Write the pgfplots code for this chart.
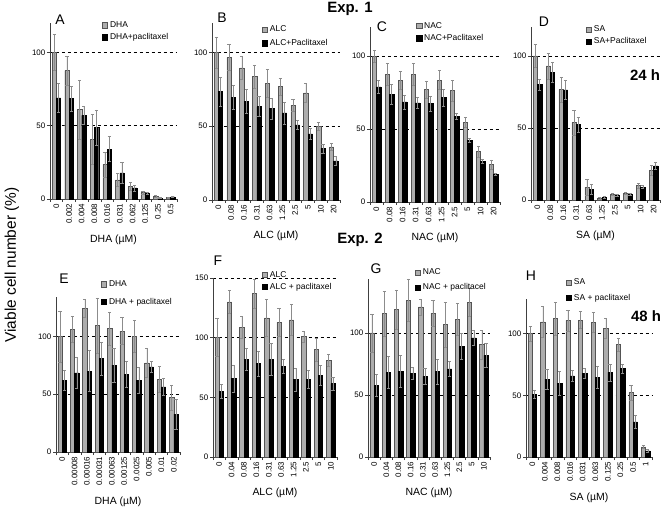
\documentclass[border=0pt]{standalone}
\usepackage{fontspec}
\setmainfont{Liberation Sans}
\usepackage{pgfplots}
\pgfplotsset{compat=1.18}
\usepackage{pgfplotstable}

\definecolor{barg}{rgb}{0.68,0.68,0.68}
\definecolor{barge}{rgb}{0.33,0.33,0.33}
\definecolor{errc}{rgb}{0.55,0.55,0.55}
\newcommand{\ticks}{\fontsize{8}{9}\selectfont}

\pgfplotstableread{
x g ge b be
0 100 12 69 10
1 87.5 10 68.5 8.5
2 61 20 57 6
3 40.5 17 48.7 12
4 23.5 8.5 34 8.5
5 13 4.5 17.8 7
6 8.7 3 7.5 2
7 4.3 1.2 3.9 1
8 2 0.5 0.7 0.3
9 1.1 0.3 1.4 0.3
}\tA
\pgfplotstableread{
x g ge b be
0 100 10.6 73.4 9.7
1 96.6 8.8 69.6 7.9
2 89.6 7.9 67 8
3 83.6 8 63.3 6.7
4 79 9.5 62 7
5 76.8 5.6 59 7.4
6 64.4 4 51 3.2
7 72.7 6.3 44.8 3.8
8 49.8 2.7 35 3
9 36 2.5 26.6 3
}\tB
\pgfplotstableread{
x g ge b be
0 100 4 79 4.6
1 87.4 7.5 73.7 7
2 83.6 6 68.7 4.8
3 87.4 7.5 68 4
4 77 6 67.6 5.2
5 83.6 6.6 71.5 5.7
6 76.3 7 58.7 2
7 54.8 3.6 42.5 1.3
8 34.7 3.7 28 1.2
9 25.6 3.2 19 1
}\tC
\pgfplotstableread{
x g ge b be
0 100 8 80 4
1 93 9 88.5 7
2 76.6 8.5 76.3 6.5
3 53.6 8.5 52.2 5.3
4 8.7 5.5 7.4 3.4
5 1.1 0.5 1.8 0.5
6 3.9 0.5 3.2 0.5
7 4.8 0.5 4.1 0.5
8 9.9 1.6 9 1.1
9 20.7 3.4 23.7 2.3
}\tD
\pgfplotstableread{
x g ge b be
0 100 22 62 8.6
1 106 11.5 68.5 13.7
2 124 7.7 70 17.6
3 109.5 23.8 80.8 14.3
4 106.6 14.3 75 14.3
5 104.6 11.5 67.3 11.2
6 100 13.8 62 11.5
7 77 12.3 73.6 4.9
8 62.8 11.4 56.4 7.2
9 47 10.9 32.7 12.9
}\tE
\pgfplotstableread{
x g ge b be
0 100.3 16 55 6
1 130 9.5 65.6 11.7
2 108.7 9.2 81.6 9.2
3 136.9 12.2 78.2 10.6
4 116.5 15.4 81.8 13.7
5 112.8 11.5 76 5.6
6 115 13 64.8 9.8
7 101 4.7 64.8 7.5
8 90 9.8 68.2 8.4
9 80.7 5 61.5 5.3
}\tF
\pgfplotstableread{
x g ge b be
0 100 15.3 57.5 8.9
1 115.6 18 68.3 12.9
2 118.8 16 69 12.9
3 126.3 17.2 67.7 4.8
4 121 6.5 65 6.7
5 116 10.2 68.8 10.2
6 106.7 18 71 6.2
7 110.8 12.9 89.2 10.8
8 124.7 11.6 96 5.9
9 90.6 11.6 82 9.4
}\tG
\pgfplotstableread{
x g ge b be
0 100 6 51 3.3
1 109.5 12.8 63 8.4
2 112 13 59.8 9.5
3 110.6 8.4 65.8 4.3
4 110.9 6.8 68 4
5 109.2 8.2 64.7 8.7
6 104 8.2 68.5 6.8
7 91 5.4 71.5 3.3
8 52.2 6.2 28.5 5.4
9 8.2 1.3 4.9 1.1
}\tH

\pgfplotsset{
 panel/.style={
  scale only axis, anchor=south west, clip=false,
  ybar=0pt, bar width=4.3bp,
  xmin=-0.5, xmax=9.5, ymin=0,
  axis x line=bottom, axis y line=left,
  axis line style={-, black!75, line width=0.6pt},
  xtick={-0.5,0.5,...,9.5}, xticklabels={},
  extra x ticks={0,1,...,9},
  extra x tick style={major tick length=0pt},
  tick align=outside, major tick length=3bp,
  tick style={black!75, line width=0.6pt},
  ytick={0,50,100},
  ymajorgrids, major grid style={dashed, black, line width=0.5pt},
  x tick label style={rotate=90, anchor=east, font=\ticks, inner sep=1.5bp, xshift=-3bp},
  y tick label style={font=\ticks, inner sep=1.5bp},
  /pgf/number format/assume math mode=true,
  xlabel style={font=\fontsize{10.5}{12}\selectfont, yshift=-3bp},
  legend style={draw=none, fill=none, font=\fontsize{8.5}{9}\selectfont,
    anchor=north west, inner sep=0pt, cells={anchor=west}},
  legend image code/.code={\draw[##1, line width=0.6pt] (0bp,-2.6bp) rectangle (5.2bp,2.6bp);},
 },
 gbar/.style={fill=barg, draw=barge, line width=0.5pt,
   error bars/.cd, y dir=both, y explicit,
   error bar style={errc, line width=0.5pt, solid},
   error mark options={rotate=90, errc, mark size=1.6bp, line width=0.5pt}},
 kbar/.style={fill=black, draw=black, line width=0.5pt,
   error bars/.cd, y dir=both, y explicit,
   error bar style={errc, line width=0.5pt, solid},
   error mark options={rotate=90, errc, mark size=1.6bp, line width=0.5pt}},
}

\begin{document}
\begin{tikzpicture}
\path[use as bounding box] (0,0) rectangle (669bp,509bp);

% A
\begin{axis}[panel, at={(50bp,310bp)}, width=127bp, height=176bp, ymax=120,
  extra x tick labels={0,0.002,0.004,0.008,0.016,0.031,0.062,0.125,0.25,0.5},
  xlabel={DHA (µM)},
  legend style={at={(axis description cs:0.41,1.02)}, row sep=0.5bp}]
\addplot[gbar] table[x=x,y=g,y error=ge]{\tA};
\addplot[kbar] table[x=x,y=b,y error=be]{\tA};
\legend{DHA,DHA+paclitaxel}
\end{axis}

% B
\begin{axis}[panel, at={(212bp,309bp)}, width=128bp, height=177bp, ymax=120,
  extra x tick labels={0,0.08,0.16,0.31,0.63,1.25,2.5,5,10,20},
  xlabel={ALC (µM)},
  legend style={at={(axis description cs:0.39,0.995)}, row sep=2bp}]
\addplot[gbar] table[x=x,y=g,y error=ge]{\tB};
\addplot[kbar] table[x=x,y=b,y error=be]{\tB};
\legend{ALC,ALC+Paclitaxel}
\end{axis}

% C
\begin{axis}[panel, at={(370bp,307bp)}, width=130bp, height=175bp, ymax=120,
  extra x tick labels={0,0.08,0.16,0.31,0.63,1.25,2.5,5,10,20},
  xlabel={NAC (µM)},
  legend style={at={(axis description cs:0.355,1.04)}, row sep=1bp}]
\addplot[gbar] table[x=x,y=g,y error=ge]{\tC};
\addplot[kbar] table[x=x,y=b,y error=be]{\tC};
\legend{NAC,NAC+Paclitaxel}
\end{axis}

% D
\begin{axis}[panel, at={(531bp,309bp)}, width=129bp, height=173bp, ymax=120,
  extra x tick labels={0,0.08,0.16,0.31,0.63,1.25,2.5,5,10,20},
  xlabel={SA (µM)},
  legend style={at={(axis description cs:0.426,1.02)}, row sep=0.5bp}]
\addplot[gbar] table[x=x,y=g,y error=ge]{\tD};
\addplot[kbar] table[x=x,y=b,y error=be]{\tD};
\legend{SA,SA+Paclitaxel}
\end{axis}

% E
\begin{axis}[panel, at={(56bp,57bp)}, width=124bp, height=155bp, ymax=134,
  extra x tick labels={0,0.00008,0.00016,0.00031,0.00063,0.00125,0.0025,0.005,0.01,0.02},
  xlabel={DHA (µM)},
  legend style={at={(axis description cs:0.363,1.12)}, row sep=6bp}]
\addplot[gbar] table[x=x,y=g,y error=ge]{\tE};
\addplot[kbar] table[x=x,y=b,y error=be]{\tE};
\legend{DHA,DHA + paclitaxel}
\end{axis}

% F
\begin{axis}[panel, at={(213bp,52bp)}, width=124bp, height=179bp, ymax=150,
  ytick={0,50,100,150},
  extra x tick labels={0,0.04,0.08,0.16,0.31,0.63,1.25,2.5,5,10},
  xlabel={ALC (µM)},
  legend style={at={(axis description cs:0.395,1.05)}, row sep=0.5bp}]
\addplot[gbar] table[x=x,y=g,y error=ge]{\tF};
\addplot[kbar] table[x=x,y=b,y error=be]{\tF};
\legend{ALC,ALC + paclitaxel}
\end{axis}

% G
\begin{axis}[panel, at={(368bp,52bp)}, width=122bp, height=178bp, ymax=143.5,
  extra x tick labels={0,0.04,0.08,0.16,0.31,0.63,1.25,2.5,5,10},
  xlabel={NAC (µM)},
  legend style={at={(axis description cs:0.385,1.07)}, row sep=3.5bp}]
\addplot[gbar] table[x=x,y=g,y error=ge]{\tG};
\addplot[kbar] table[x=x,y=b,y error=be]{\tG};
\legend{NAC,NAC + paclitacel}
\end{axis}

% H
\begin{axis}[panel, at={(526bp,52bp)}, width=126bp, height=158bp, ymax=128,
  extra x tick labels={0,0.004,0.008,0.016,0.031,0.063,0.125,0.25,0.5,1},
  xlabel={SA (µM)},
  legend style={at={(axis description cs:0.317,1.14)}, row sep=3.5bp}]
\addplot[gbar] table[x=x,y=g,y error=ge]{\tH};
\addplot[kbar] table[x=x,y=b,y error=be]{\tH};
\legend{SA,SA + paclitaxel}
\end{axis}

% texts
\node[rotate=90, font=\fontsize{15.5}{17}\selectfont] at (12bp,244bp) {Viable cell number (\%)};
\node[font=\fontsize{15}{17}\bfseries] at (350bp,500bp) {Exp. 1};
\node[font=\fontsize{15}{17}\bfseries] at (360bp,269bp) {Exp. 2};
\node[font=\fontsize{15}{17}\bfseries] at (645bp,434bp) {24 h};
\node[font=\fontsize{15}{17}\bfseries] at (646bp,193bp) {48 h};
\node[font=\fontsize{14}{16}\selectfont] at (60bp,489bp) {A};
\node[font=\fontsize{14}{16}\selectfont] at (222bp,491bp) {B};
\node[font=\fontsize{14}{16}\selectfont] at (382bp,482bp) {C};
\node[font=\fontsize{14}{16}\selectfont] at (544bp,487bp) {D};
\node[font=\fontsize{14}{16}\selectfont] at (64bp,230bp) {E};
\node[font=\fontsize{14}{16}\selectfont] at (218bp,248bp) {F};
\node[font=\fontsize{14}{16}\selectfont] at (376bp,240bp) {G};
\node[font=\fontsize{14}{16}\selectfont] at (531bp,233bp) {H};
\end{tikzpicture}
\end{document}
